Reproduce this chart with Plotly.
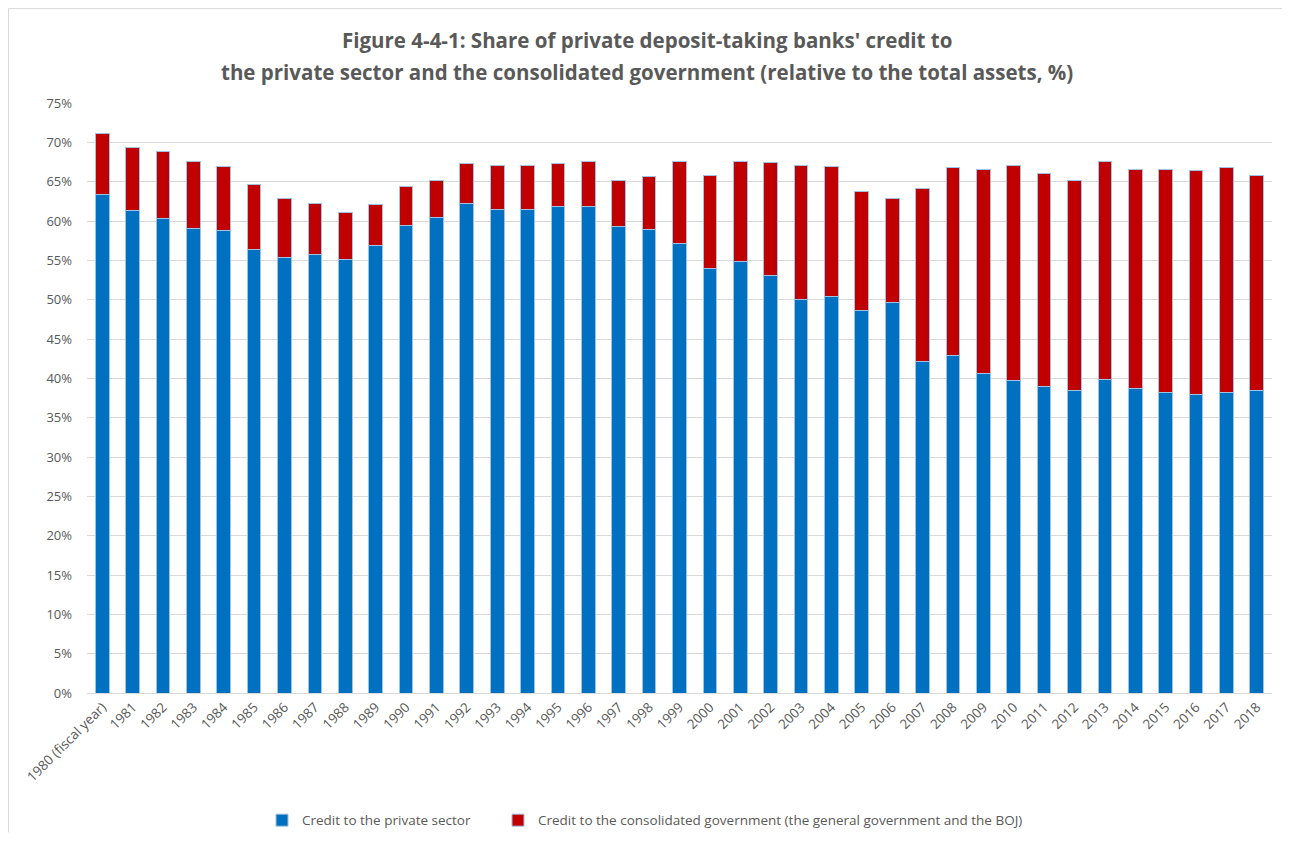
import plotly.graph_objects as go

years = ["1980 (fiscal year)"] + [str(y) for y in range(1981, 2019)]

total = [71.1, 69.4, 68.8, 67.6, 66.9, 64.6, 62.9, 62.2, 61.1, 62.1,
         64.4, 65.2, 67.3, 67.1, 67.1, 67.3, 67.6, 65.1, 65.6, 67.6,
         65.8, 67.6, 67.4, 67.1, 66.9, 63.8, 62.9, 64.1, 66.8, 66.6,
         67.1, 66.1, 65.1, 67.6, 66.6, 66.6, 66.4, 66.8, 65.8]

private = [63.4, 61.3, 60.3, 59.1, 58.8, 56.4, 55.4, 55.8, 55.1, 56.9,
           59.4, 60.4, 62.2, 61.4, 61.4, 61.9, 61.8, 59.3, 58.9, 57.1,
           53.9, 54.9, 53.1, 50.0, 50.4, 48.6, 49.7, 42.2, 42.9, 40.6,
           39.7, 38.9, 38.5, 39.9, 38.7, 38.2, 38.0, 38.2, 38.5]

government = [round(t - p, 1) for t, p in zip(total, private)]

title_line1 = "Figure 4-4-1: Share of private deposit-taking banks' credit to"
title_line2 = "the private sector and the consolidated government (relative to the total assets, %)"

FONT = "Open Sans"
GRAY = "#595959"

W, H = 1274, 825
ML, MR, MT, MB = 79, 10, 95, 139.5
PW = W - ML - MR
PH = H - MT - MB


def px_x(fx):
    return (fx - ML) / PW


def px_y(fy):
    return (H - MB - fy) / PH


fig = go.Figure()
fig.add_trace(go.Bar(
    x=years, y=private, name="Credit to the private sector",
    marker=dict(color="#0070C0", line=dict(color="#9DC3E6", width=1)),
    legend="legend",
))
fig.add_trace(go.Bar(
    x=years, y=government,
    name="Credit to the consolidated government (the general government and the BOJ)",
    marker=dict(color="#C00000", line=dict(color="#9DC3E6", width=1)),
    legend="legend2",
))

legend_common = dict(
    orientation="h", xanchor="left", y=px_y(813), yanchor="middle",
    font=dict(family=FONT, size=13.5, color=GRAY),
    itemwidth=30, bgcolor="rgba(0,0,0,0)",
)

fig.update_layout(
    barmode="stack",
    bargap=0.55,
    width=W, height=H,
    margin=dict(l=ML, r=MR, t=MT, b=MB, autoexpand=False),
    paper_bgcolor="white", plot_bgcolor="white",
    font=dict(family=FONT, color=GRAY, size=13),
    legend=dict(x=px_x(254), **legend_common),
    legend2=dict(x=px_x(490), **legend_common),
    showlegend=True,
)
fig.add_annotation(text="<b>" + title_line1 + "</b>", xref="paper", yref="paper",
                   x=px_x(638.5), y=px_y(32), xanchor="center", yanchor="middle",
                   showarrow=False, font=dict(family=FONT, size=20.5, color=GRAY))
fig.add_annotation(text="<b>" + title_line2 + "</b>", xref="paper", yref="paper",
                   x=px_x(638.5), y=px_y(64), xanchor="center", yanchor="middle",
                   showarrow=False, font=dict(family=FONT, size=20.5, color=GRAY))

fig.update_yaxes(
    range=[0, 75], dtick=5, ticksuffix="%",
    showgrid=True, gridcolor="#D9D9D9", gridwidth=1,
    zeroline=False, showline=False,
    tickfont=dict(family=FONT, size=13, color=GRAY),
    ticks="", ticklabelstandoff=14,
)
fig.update_xaxes(
    tickangle=-45, showline=True, linecolor="#D9D9D9", linewidth=1,
    tickfont=dict(family=FONT, size=13.5, color=GRAY),
    ticks="",
)
# top and left frame lines of the chart area
fig.add_shape(type="line", xref="paper", yref="paper",
              x0=px_x(0.5), x1=px_x(W), y0=px_y(0.5), y1=px_y(0.5),
              line=dict(color="#D9D9D9", width=1))
fig.add_shape(type="line", xref="paper", yref="paper",
              x0=px_x(0.5), x1=px_x(0.5), y0=px_y(0.5), y1=px_y(H),
              line=dict(color="#D9D9D9", width=1))

fig.write_html("out.html")
